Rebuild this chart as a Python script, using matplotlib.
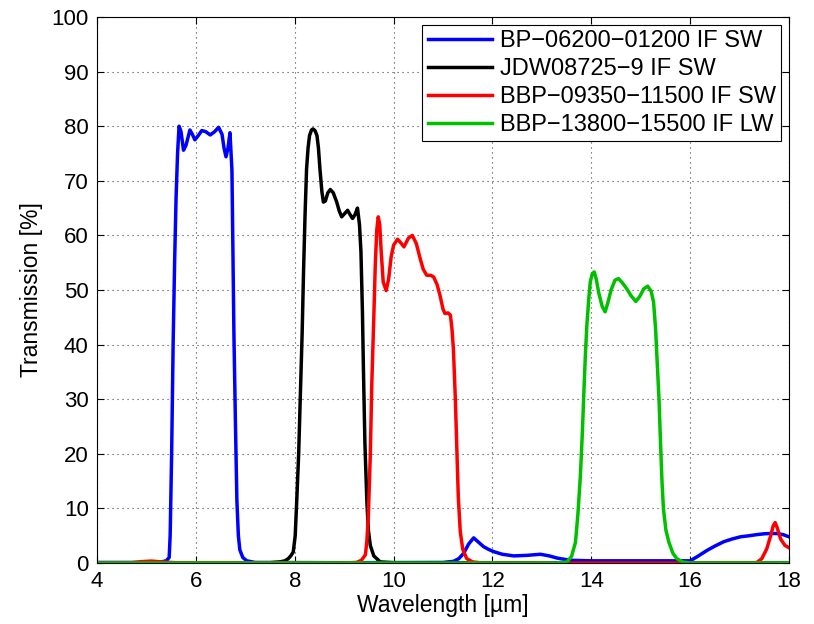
import matplotlib
matplotlib.use('Agg')
import matplotlib.pyplot as plt

plt.rcParams['font.family'] = ['Liberation Sans', 'DejaVu Sans']

# filter transmission curves: (wavelength um, transmission %)
bp_06200 = [
    (4.0, 0.1), (5.0, 0.1), (5.30, 0.2), (5.40, 0.4), (5.46, 1.0), (5.48, 5.0),
    (5.51, 20), (5.54, 40), (5.57, 55), (5.60, 67), (5.63, 75), (5.66, 80),
    (5.70, 79), (5.75, 75.6), (5.80, 76.5), (5.88, 79.3), (5.93, 78.5),
    (5.98, 77.5), (6.05, 78.3), (6.12, 79.2), (6.20, 79.0), (6.29, 78.4),
    (6.38, 79.0), (6.46, 79.8), (6.53, 78.5), (6.57, 76.0), (6.61, 74.4),
    (6.65, 76.0), (6.69, 78.8), (6.73, 72), (6.77, 42), (6.80, 26), (6.83, 11.5),
    (6.86, 5.0), (6.89, 2.4), (6.95, 1.0), (7.03, 0.4), (7.2, 0.1), (9.0, 0.05),
    (11.0, 0.1), (11.21, 0.3), (11.32, 0.8), (11.42, 1.8), (11.52, 3.5),
    (11.62, 4.6), (11.72, 3.8), (11.82, 3.0), (11.92, 2.5), (12.02, 2.1),
    (12.2, 1.6), (12.43, 1.3), (12.7, 1.4), (12.97, 1.6), (13.15, 1.3),
    (13.31, 0.9), (13.57, 0.5), (14.0, 0.4), (15.0, 0.4), (16.0, 0.4),
    (16.15, 1.2), (16.34, 2.3), (16.5, 3.1), (16.68, 3.9), (16.85, 4.4),
    (17.02, 4.8), (17.2, 5.0), (17.35, 5.2), (17.5, 5.35), (17.62, 5.4),
    (17.75, 5.4), (17.88, 5.2), (18.0, 4.8),
]

jdw08725 = [
    (4.0, 0), (7.5, 0.05), (7.70, 0.2), (7.80, 0.4), (7.87, 0.8), (7.92, 1.3),
    (7.97, 2.0), (8.01, 5), (8.04, 11.2), (8.08, 20), (8.11, 29.5), (8.15, 42),
    (8.18, 53.9), (8.21, 64), (8.24, 72.2), (8.27, 76), (8.30, 78.3),
    (8.34, 79.3), (8.37, 79.5), (8.41, 79.2), (8.45, 78.3), (8.48, 76),
    (8.51, 72.2), (8.55, 68), (8.58, 66.1), (8.62, 66.3), (8.67, 67.8),
    (8.72, 68.4), (8.78, 67.8), (8.85, 66.1), (8.90, 64.5), (8.95, 63.4),
    (9.01, 64), (9.07, 64.6), (9.12, 63.8), (9.17, 63.1), (9.22, 63.8),
    (9.27, 65.0), (9.31, 62), (9.34, 57.0), (9.37, 46), (9.39, 35.6),
    (9.42, 22), (9.46, 11.2), (9.49, 6), (9.53, 3.2), (9.60, 1.3),
    (9.73, 0.2), (10.0, 0.05), (18.0, 0),
]

bbp_09350 = [
    (4.0, 0), (4.7, 0.05), (4.9, 0.25), (5.1, 0.35), (5.3, 0.2), (5.6, 0.05),
    (9.0, 0), (9.25, 0.1), (9.35, 0.5), (9.43, 1.5), (9.46, 4), (9.49, 8.7),
    (9.53, 20), (9.56, 33), (9.60, 45), (9.63, 54.6), (9.66, 61), (9.69, 63.4),
    (9.72, 62), (9.75, 57), (9.79, 51.5), (9.85, 49.9), (9.90, 52), (9.95, 56),
    (10.0, 58.2), (10.08, 59.3), (10.15, 58.6), (10.21, 57.9), (10.30, 59.5),
    (10.38, 60.0), (10.46, 58.5), (10.54, 55.7), (10.60, 53.8), (10.67, 52.7),
    (10.75, 52.7), (10.81, 52.4), (10.88, 51), (10.94, 49.0), (11.0, 46.5),
    (11.04, 45.7), (11.10, 45.8), (11.15, 45.4), (11.18, 43), (11.21, 39.3),
    (11.25, 30), (11.28, 20.9), (11.31, 12), (11.35, 5.7), (11.40, 2.5),
    (11.48, 0.8), (11.6, 0.2), (11.8, 0), (17.2, 0), (17.35, 0.1), (17.45, 0.8),
    (17.55, 2.6), (17.63, 5.0), (17.68, 6.8), (17.72, 7.4), (17.76, 6.5),
    (17.83, 4.4), (17.92, 3.2), (18.0, 2.8),
]

bbp_13800 = [
    (4.0, 0), (13.3, 0), (13.51, 0.2), (13.6, 1.2), (13.68, 3.8), (13.73, 9),
    (13.78, 16.1), (13.82, 24), (13.85, 31.3), (13.88, 38), (13.91, 43.5),
    (13.95, 48.5), (13.98, 51.5), (14.02, 53), (14.06, 53.3), (14.10, 52),
    (14.15, 49.5), (14.22, 47), (14.28, 46.0), (14.33, 47.5), (14.40, 50),
    (14.48, 51.8), (14.55, 52.1), (14.63, 51.3), (14.72, 50.2), (14.80, 49),
    (14.90, 47.9), (14.98, 48.8), (15.06, 50.2), (15.14, 50.7), (15.21, 49.8),
    (15.26, 47.8), (15.30, 43), (15.33, 37.4), (15.37, 30), (15.40, 22.2),
    (15.43, 15), (15.46, 9.9), (15.51, 6), (15.57, 3.8), (15.65, 1.8),
    (15.73, 0.8), (15.85, 0.2), (16.0, 0), (18.0, 0),
]

labels = ['BP\u221206200\u221201200 IF SW', 'JDW08725\u22129 IF SW',
          'BBP\u221209350\u221211500 IF SW', 'BBP\u221213800\u221215500 IF LW']
colors = ['#0000ff', '#000000', '#ff0000', '#00c000']
curves = [bp_06200, jdw08725, bbp_09350, bbp_13800]

fig = plt.figure(figsize=(8.14, 6.24), dpi=100)
ax = fig.add_axes([97 / 814, 61 / 624, 692 / 814, 546 / 624])

for data, color, label in zip(curves, colors, labels):
    wl = [p[0] for p in data]
    tr = [p[1] for p in data]
    ax.plot(wl, tr, color=color, linewidth=2.5, label=label)

ax.set_xlim(4, 18)
ax.set_ylim(0, 100)
ax.set_xticks(range(4, 19, 2))
ax.set_yticks(range(0, 101, 10))
ax.grid(True, color='0.25', linestyle=(0, (1, 3.5)), linewidth=0.8)
ax.tick_params(direction='in', top=True, right=True, length=5, width=0.8,
               labelsize=16, pad=6)
for s in ax.spines.values():
    s.set_linewidth(0.8)

ax.set_xlabel('Wavelength [\u00b5m]', fontsize=16.5, labelpad=1)
ax.set_ylabel('Transmission [%]', fontsize=16.5, labelpad=6)

leg = ax.legend(loc='upper right', fontsize=17, handlelength=2.75,
                handletextpad=0.3, labelspacing=0.25, borderaxespad=0.35,
                borderpad=0.22, fancybox=False, framealpha=1, edgecolor='black')
leg.get_frame().set_linewidth(0.8)

fig.savefig('out.png', dpi=100, facecolor='white')
